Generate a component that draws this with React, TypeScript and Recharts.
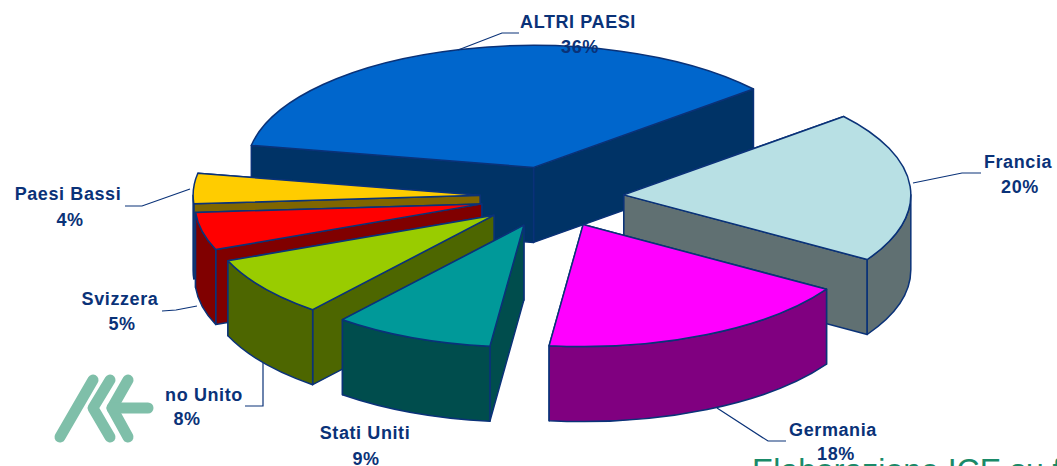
import { Pie, PieChart } from "recharts"

const categories = ["ALTRI PAESI", "Paesi Bassi", "Svizzera", "no Unito", "Stati Uniti", "Germania", "Francia"]
const shares = [36, 4, 5, 8, 9, 18, 20]

const chartData = categories.map((name, i) => ({ name, value: shares[i] }))

// paint order matters, later passes sit on top of earlier ones
const passes = [
  ["ALTRI PAESI", "Paesi Bassi", "Svizzera", "no Unito", "Stati Uniti"],
  ["Francia"],
  ["Germania"],
]

const TOP_COLORS: Record<string, string> = {
  "ALTRI PAESI": "#0066cc",
  "Paesi Bassi": "#ffcc00",
  Svizzera: "#ff0000",
  "no Unito": "#99cc00",
  "Stati Uniti": "#009999",
  Germania: "#ff00ff",
  Francia: "#b8e0e4",
}

const WALL_COLORS: Record<string, string> = {
  "ALTRI PAESI": "#003366",
  "Paesi Bassi": "#806600",
  Svizzera: "#800000",
  "no Unito": "#4d6600",
  "Stati Uniti": "#004d4d",
  Germania: "#800080",
  Francia: "#607072",
}

const LABELS: Record<string, { name: [number, number]; pct: [number, number]; line?: string }> = {
  "ALTRI PAESI": { name: [578, 28], pct: [580, 53], line: "458,50 502,33 519,33" },
  "Paesi Bassi": { name: [68, 200], pct: [70, 226], line: "125,206 142,206 190,189" },
  Svizzera: { name: [120, 305], pct: [122, 330], line: "162,311 176,310 197,306" },
  "no Unito": { name: [204, 401], pct: [187, 425], line: "263,363 263,406 245,406" },
  "Stati Uniti": { name: [365, 439], pct: [366, 465] },
  Germania: { name: [833, 436], pct: [836, 460], line: "717,408 768,441 786,441" },
  Francia: { name: [1018, 168], pct: [1020, 193], line: "913,183 962,173 981,173" },
}

const START_ANGLE = 40
const TILT = 0.425
const DEPTH = 75
const EXPLODE = 72
const NAVY = "#0a3278"
const RAD = Math.PI / 180

function Slice3D({ cx, cy, outerRadius: r, startAngle, endAngle, name, only }: any) {
  if (!only.includes(name)) return null
  const mid = ((startAngle + endAngle) / 2) * RAD
  const ox = cx + EXPLODE * Math.cos(mid)
  const oy = cy - EXPLODE * Math.sin(mid) * TILT
  const at = (deg: number, down = 0) =>
    `${ox + r * Math.cos(deg * RAD)} ${oy - r * TILT * Math.sin(deg * RAD) + down}`
  const rx = `${r} ${r * TILT} 0 0`
  const top = `M${ox} ${oy} L${at(startAngle)} A${rx} 0 ${at(endAngle)} Z`
  const face = (deg: number) =>
    `M${ox} ${oy} L${at(deg)} L${at(deg, DEPTH)} L${ox} ${oy + DEPTH} Z`

  // back face first so the front one covers it
  const faces = [startAngle, endAngle].sort((a, b) => Math.sin(b * RAD) - Math.sin(a * RAD))

  // only the part of the rim that faces the viewer gets a wall
  const visible: [number, number][] = []
  for (const [a, b] of [[-180, 0], [180, 360]]) {
    const from = Math.max(startAngle, a)
    const to = Math.min(endAngle, b)
    if (to > from) visible.push([from, to])
  }

  const wall = WALL_COLORS[name]
  return (
    <g stroke={NAVY} strokeWidth={1.5} strokeLinejoin="round">
      {faces.map((deg) => (
        <path key={deg} d={face(deg)} fill={wall} />
      ))}
      {visible.map(([a, b]) => (
        <path
          key={a}
          d={`M${at(a)} A${rx} 0 ${at(b)} L${at(b, DEPTH)} A${rx} 1 ${at(a, DEPTH)} Z`}
          fill={wall}
        />
      ))}
      <path d={top} fill={TOP_COLORS[name]} />
    </g>
  )
}

function SliceLabel({ name, value }: any) {
  const spot = LABELS[name]
  const textStyle = { fontFamily: "Liberation Sans", fontWeight: 700, fontSize: 18, letterSpacing: 0.6, fill: NAVY }
  return (
    <g>
      {spot.line && <polyline points={spot.line} fill="none" stroke={NAVY} strokeWidth={1.2} />}
      <text x={spot.name[0]} y={spot.name[1]} textAnchor="middle" style={textStyle}>
        {name}
      </text>
      <text x={spot.pct[0]} y={spot.pct[1]} textAnchor="middle" style={textStyle}>
        {value}%
      </text>
    </g>
  )
}

function Logo() {
  return (
    <svg
      width={170}
      height={90}
      viewBox="40 365 170 90"
      style={{ position: "absolute", left: 40, top: 365 }}
    >
      <g fill="none" stroke="#7fbfa9" strokeWidth={11} strokeLinecap="round" strokeLinejoin="round">
        <path d="M93 380 L60 437" />
        <path d="M110 380 L93 408 L110 437" />
        <path d="M128 380 L112 408 L128 437" />
        <path d="M112 408 L148 408" />
      </g>
    </svg>
  )
}

export default function App() {
  return (
    <div style={{ position: "fixed", left: 0, top: 0, width: 1057, height: 466, overflow: "hidden", background: "#fff" }}>
      <PieChart width={1057} height={466} margin={{ top: 0, right: 0, bottom: 0, left: 0 }}>
        {passes.map((only, i) => (
          <Pie
            key={i}
            data={chartData}
            dataKey="value"
            nameKey="name"
            cx={552}
            cy={197}
            outerRadius={287}
            startAngle={START_ANGLE}
            endAngle={START_ANGLE + 360}
            stroke="none"
            isAnimationActive={false}
            shape={(props: any) => <Slice3D {...props} only={only} />}
          />
        ))}
        <Pie
          data={chartData}
          dataKey="value"
          nameKey="name"
          cx={552}
          cy={197}
          outerRadius={287}
          startAngle={START_ANGLE}
          endAngle={START_ANGLE + 360}
          isAnimationActive={false}
          shape={() => null}
          labelLine={false}
          label={(props: any) => <SliceLabel {...props} />}
        />
      </PieChart>
      <Logo />
      <div
        style={{
          position: "absolute",
          left: 752,
          top: 452,
          fontFamily: "Liberation Sans",
          fontSize: 32,
          color: "#1a8a68",
          whiteSpace: "nowrap",
        }}
      >
        Elaborazione ICE su f
      </div>
    </div>
  )
}
